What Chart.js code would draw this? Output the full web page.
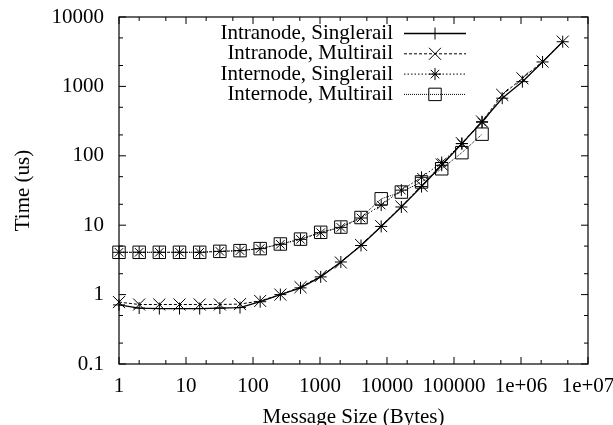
<!DOCTYPE html>
<html>
<head>
<meta charset="utf-8">
<script src="https://cdn.jsdelivr.net/npm/chart.js@4.4.0/dist/chart.umd.min.js"></script>
<style>
  body { margin: 0; background: #fff; }
  canvas { display: block; }
</style>
</head>
<body>
<canvas id="timeChart" width="613" height="425"></canvas>
<script>
// message sizes in bytes (powers of two)
const msgSizes = [1, 2, 4, 8, 16, 32, 64, 128, 256, 512, 1024, 2048, 4096, 8192, 16384,
  32768, 65536, 131072, 262144, 524288, 1048576, 2097152, 4194304];

// times in microseconds
const intraSingle = [0.71, 0.64, 0.63, 0.63, 0.63, 0.64, 0.65, 0.79, 1.0, 1.25, 1.8, 2.95,
  5.1, 9.6, 18.3, 36, 73, 150, 310, 676, 1170, 2250, 4400];
const intraMulti = [0.78, 0.72, 0.72, 0.72, 0.72, 0.72, 0.73, 0.81, 1.0, 1.28, 1.85, 2.9,
  5.2, 9.7, 18.6, 37, 75, 152, 312, 755, 1310, 2280, 4420];
const interSingle = [4.07, 4.07, 4.07, 4.07, 4.07, 4.2, 4.3, 4.6, 5.3, 6.25, 7.8, 9.3,
  12.7, 19.5, 32, 49, 80, 150, 305];
const interMulti = [4.07, 4.07, 4.07, 4.07, 4.07, 4.2, 4.3, 4.6, 5.36, 6.3, 7.9, 9.4,
  12.9, 24, 30, 42, 65, 111, 205];

const xTickValues = [1, 10, 100, 1000, 10000, 100000, 1000000, 10000000];
const xTickLabels = ['1', '10', '100', '1000', '10000', '100000', '1e+06', '1e+07'];
const yTickValues = [0.1, 1, 10, 100, 1000, 10000];
const yTickLabels = ['0.1', '1', '10', '100', '1000', '10000'];

const serif = { family: '"Liberation Serif", "Times New Roman", serif', size: 21 };

function toPoints(ys) {
  return ys.map((y, i) => ({ x: msgSizes[i], y: y }));
}

function series(label, ys, dash, style, radius, width) {
  return {
    label: label,
    data: toPoints(ys),
    borderColor: '#000',
    borderWidth: width,
    borderDash: dash,
    pointStyle: style,
    pointRadius: radius,
    pointBorderColor: '#000',
    pointBackgroundColor: 'rgba(0,0,0,0)',
    pointBorderWidth: 1,
    fill: false,
    tension: 0,
    clip: false
  };
}

// gnuplot style frame: border plus inward ticks on all four sides, key at top right
const framePlugin = {
  id: 'frame',
  afterDatasetsDraw(chart) {
    const { ctx, chartArea: a, scales: { x, y } } = chart;
    ctx.save();
    ctx.strokeStyle = '#000';
    ctx.lineWidth = 1.2;
    ctx.strokeRect(a.left, a.top, a.right - a.left, a.bottom - a.top);
    ctx.lineWidth = 1;
    ctx.beginPath();
    const tick = (v, len, axis) => {
      if (axis === 'x') {
        const px = x.getPixelForValue(v);
        ctx.moveTo(px, a.bottom); ctx.lineTo(px, a.bottom - len);
        ctx.moveTo(px, a.top); ctx.lineTo(px, a.top + len);
      } else {
        const py = y.getPixelForValue(v);
        ctx.moveTo(a.left, py); ctx.lineTo(a.left + len, py);
        ctx.moveTo(a.right, py); ctx.lineTo(a.right - len, py);
      }
    };
    xTickValues.forEach((v, i) => {
      tick(v, 7, 'x');
      if (i < xTickValues.length - 1) { tick(v * 2, 4, 'x'); tick(v * 5, 4, 'x'); }
    });
    yTickValues.forEach((v, i) => {
      tick(v, 7, 'y');
      if (i < yTickValues.length - 1) { tick(v * 2, 4, 'y'); tick(v * 5, 4, 'y'); }
    });
    ctx.stroke();

    // key
    ctx.font = serif.size + 'px ' + serif.family;
    ctx.textAlign = 'right';
    ctx.textBaseline = 'middle';
    ctx.fillStyle = '#000';
    chart.data.datasets.forEach((ds, i) => {
      const ky = a.top + 16.5 + i * 20.3;
      ctx.fillText(ds.label, a.left + 274, ky);
      ctx.save();
      ctx.lineWidth = ds.borderWidth;
      ctx.setLineDash(ds.borderDash);
      ctx.beginPath();
      ctx.moveTo(a.left + 285, ky);
      ctx.lineTo(a.left + 347, ky);
      ctx.stroke();
      ctx.setLineDash([]);
      ctx.lineWidth = 1;
      ctx.fillStyle = 'rgba(0,0,0,0)';
      Chart.helpers.drawPoint(ctx, {
        pointStyle: ds.pointStyle, radius: ds.pointRadius, rotation: 0, borderWidth: 1
      }, a.left + 316, ky);
      ctx.restore();
    });
    ctx.restore();
  }
};

new Chart(document.getElementById('timeChart'), {
  type: 'line',
  data: {
    datasets: [
      series('Intranode, Singlerail', intraSingle, [], 'cross', 6, 1.3),
      series('Intranode, Multirail', intraMulti, [3, 2], 'crossRot', 8.5, 1),
      series('Internode, Singlerail', interSingle, [1.5, 2], 'star', 6, 1),
      series('Internode, Multirail', interMulti, [1, 1], 'rect', 8.8, 1)
    ]
  },
  options: {
    responsive: false,
    animation: false,
    devicePixelRatio: 1,
    layout: { padding: { top: 17, right: 25, left: 0, bottom: 0 } },
    plugins: { legend: { display: false }, tooltip: { enabled: false } },
    scales: {
      x: {
        type: 'logarithmic',
        min: 1,
        max: 10000000,
        afterBuildTicks: s => { s.ticks = xTickValues.map(v => ({ value: v })); },
        afterFit: s => { s.height = 61; s.paddingLeft = 0; s.paddingRight = 0; },
        ticks: {
          callback: (v, i) => xTickLabels[i],
          font: serif, color: '#000', padding: 10, maxRotation: 0, autoSkip: false
        },
        grid: { display: false, drawTicks: false },
        border: { display: false },
        title: {
          display: true, text: 'Message Size (Bytes)', font: serif, color: '#000',
          padding: { top: 0, bottom: -5 }
        }
      },
      y: {
        type: 'logarithmic',
        min: 0.1,
        max: 10000,
        afterBuildTicks: s => { s.ticks = yTickValues.map(v => ({ value: v })); },
        afterFit: s => { s.width = 119; s.paddingTop = 0; s.paddingBottom = 0; },
        ticks: {
          callback: (v, i) => yTickLabels[i],
          font: serif, color: '#000', padding: 15, autoSkip: false
        },
        grid: { display: false, drawTicks: false },
        border: { display: false },
        title: {
          display: true, text: 'Time (us)', font: serif, color: '#000',
          padding: { top: 11, bottom: 0 }
        }
      }
    }
  },
  plugins: [framePlugin]
});
</script>
</body>
</html>
